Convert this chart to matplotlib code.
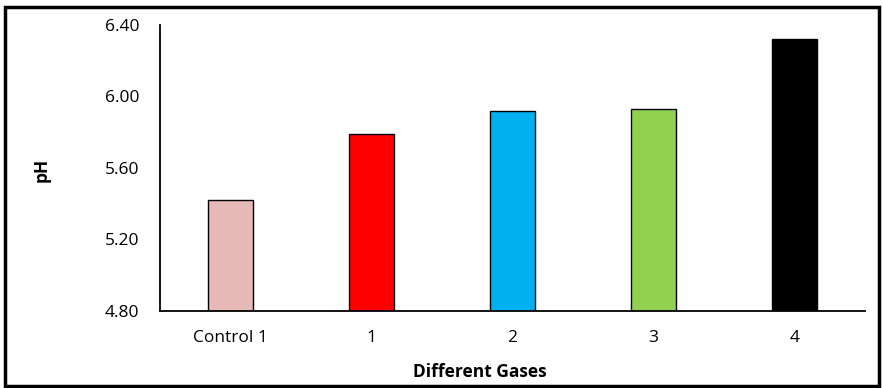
import matplotlib.pyplot as plt
from matplotlib.patches import Rectangle

categories = ["Control 1", "1", "2", "3", "4"]
ph_values = [5.42, 5.79, 5.92, 5.93, 6.32]
bar_colors = ["#E6B8B7", "#FF0000", "#00B0F0", "#92D050", "#000000"]
y_ticks = [4.80, 5.20, 5.60, 6.00, 6.40]

plt.rcParams["font.family"] = ["Open Sans", "DejaVu Sans"]

fig = plt.figure(figsize=(8.83, 3.88), dpi=100)
ax = fig.add_axes([0.1812, 0.1992, 0.7984, 0.7364])

x = range(len(categories))
ax.bar(x, ph_values, width=0.315, bottom=0, color=bar_colors,
       edgecolor="black", linewidth=1.0)

ax.set_xlim(-0.5, 4.5)
ax.set_ylim(4.80, 6.40)
ax.set_yticks(y_ticks)
ax.set_yticklabels([f"{v:.2f}" for v in y_ticks], fontsize=12.5)
ax.set_xticks(list(x))
ax.set_xticklabels(categories, fontsize=12.5)
ax.tick_params(axis="both", length=0)
ax.tick_params(axis="x", pad=14)
ax.tick_params(axis="y", pad=15)

for side in ["top", "right"]:
    ax.spines[side].set_visible(False)
ax.spines["left"].set_linewidth(1.3)
ax.spines["bottom"].set_linewidth(1.3)

fig.text(42 / 883, 1 - 170 / 388, "pH", rotation=90, fontsize=12.5,
         fontweight="bold", ha="center", va="center")
fig.text(480 / 883, 1 - 372 / 388, "Different Gases", fontsize=12.5,
         fontweight="bold", ha="center", va="center")

# outer chart border
fig.patches.append(Rectangle((5 / 883, 2 / 388), 874 / 883, 379 / 388,
                             transform=fig.transFigure, fill=False,
                             edgecolor="black", linewidth=2.5))

fig.savefig("out.png", dpi=100)
